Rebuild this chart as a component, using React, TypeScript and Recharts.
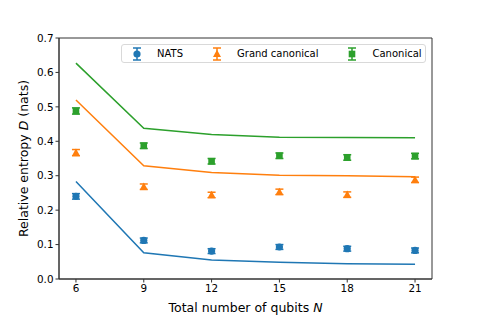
import {
  ComposedChart,
  ErrorBar,
  Legend,
  Line,
  ReferenceArea,
  Scatter,
  XAxis,
  YAxis,
} from "recharts";

const qubits = [6, 9, 12, 15, 18, 21];

// theory curves
const natsTheory = [0.283, 0.076, 0.055, 0.049, 0.044, 0.043];
const grandTheory = [0.52, 0.329, 0.309, 0.301, 0.3, 0.297];
const canonTheory = [0.627, 0.438, 0.42, 0.412, 0.411, 0.41];

// measured values with error bars
const natsExp = [0.24, 0.112, 0.081, 0.093, 0.088, 0.083];
const natsErr = [0.008, 0.007, 0.007, 0.007, 0.007, 0.007];
const grandExp = [0.367, 0.268, 0.244, 0.253, 0.245, 0.288];
const grandErr = [0.009, 0.008, 0.008, 0.008, 0.008, 0.008];
const canonExp = [0.488, 0.387, 0.342, 0.358, 0.353, 0.357];
const canonErr = [0.009, 0.008, 0.008, 0.008, 0.008, 0.008];

const yTicks = [0, 0.1, 0.2, 0.3, 0.4, 0.5, 0.6, 0.7];
const xDomain = [5.25, 21.75];
const yDomain = [0, 0.7];

const BLUE = "#1f77b4";
const ORANGE = "#ff7f0e";
const GREEN = "#2ca02c";
const FONT = "DejaVu Sans, Verdana, sans-serif";
const AXIS = "#333";

const rows = qubits.map((n, i) => ({
  n,
  natsT: natsTheory[i],
  grandT: grandTheory[i],
  canonT: canonTheory[i],
  natsE: natsExp[i],
  natsErr: natsErr[i],
  grandE: grandExp[i],
  grandErr: grandErr[i],
  canonE: canonExp[i],
  canonErr: canonErr[i],
}));

type Pt = { cx?: number; cy?: number };

function Dot({ cx = 0, cy = 0 }: Pt) {
  return <circle cx={cx} cy={cy} r={3.6} fill={BLUE} />;
}
function Tri({ cx = 0, cy = 0 }: Pt) {
  return (
    <polygon
      points={`${cx},${cy - 4.2} ${cx - 4},${cy + 3} ${cx + 4},${cy + 3}`}
      fill={ORANGE}
    />
  );
}
function Sq({ cx = 0, cy = 0 }: Pt) {
  return <rect x={cx - 3.3} y={cy - 3.3} width={6.6} height={6.6} fill={GREEN} />;
}

function LegendMark({ color, kind }: { color: string; kind: string }) {
  return (
    <svg width={20} height={16} style={{ display: "block", flex: "none" }}>
      <line x1={10} y1={2} x2={10} y2={14} stroke={color} strokeWidth={1.5} />
      <line x1={6} y1={2} x2={14} y2={2} stroke={color} strokeWidth={1.5} />
      <line x1={6} y1={14} x2={14} y2={14} stroke={color} strokeWidth={1.5} />
      {kind === "circle" && <circle cx={10} cy={8} r={3.6} fill={color} />}
      {kind === "tri" && <polygon points="10,3.8 6,11 14,11" fill={color} />}
      {kind === "sq" && <rect x={6.7} y={4.7} width={6.6} height={6.6} fill={color} />}
    </svg>
  );
}

const legendItems = [
  { name: "NATS", color: BLUE, kind: "circle" },
  { name: "Grand canonical", color: ORANGE, kind: "tri" },
  { name: "Canonical", color: GREEN, kind: "sq" },
];

function LegendBox() {
  return (
    <div
      style={{
        display: "flex",
        alignItems: "center",
        width: 305,
        height: 19,
        paddingLeft: 5,
        border: "1px solid #d9d9d9",
        borderRadius: 3,
        background: "rgba(255,255,255,0.8)",
        fontFamily: FONT,
        fontSize: 10,
        color: "#000",
        boxSizing: "border-box",
        whiteSpace: "nowrap",
      }}
    >
      {legendItems.map((it, i) => (
        <div
          key={it.name}
          style={{ display: "flex", alignItems: "center", marginLeft: i === 0 ? 0 : 24, flex: "none" }}
        >
          <LegendMark color={it.color} kind={it.kind} />
          <span style={{ marginLeft: 10 }}>{it.name}</span>
        </div>
      ))}
    </div>
  );
}

function XLabel({ viewBox }: { viewBox?: { x: number; y: number; width: number; height: number } }) {
  if (!viewBox) return null;
  return (
    <text
      x={viewBox.x + viewBox.width / 2}
      y={viewBox.y + 33}
      textAnchor="middle"
      fontFamily={FONT}
      fontSize={12.5}
      fill="#000"
    >
      Total number of qubits <tspan fontStyle="italic">N</tspan>
    </text>
  );
}

function YLabel({ viewBox }: { viewBox?: { x: number; y: number; width: number; height: number } }) {
  if (!viewBox) return null;
  const x = viewBox.x + 9;
  const y = viewBox.y + viewBox.height / 2;
  return (
    <text
      x={x}
      y={y}
      transform={`rotate(-90 ${x} ${y})`}
      textAnchor="middle"
      dominantBaseline="central"
      fontFamily={FONT}
      fontSize={12.5}
      fill="#000"
    >
      Relative entropy <tspan fontStyle="italic">D</tspan> (nats)
    </text>
  );
}

const tickStyle = { fill: "#000", fontSize: 10.4, fontFamily: FONT };

export default function App() {
  return (
    <div style={{ position: "absolute", left: 0, top: 0, background: "#fff" }}>
      <ComposedChart
        width={480}
        height={320}
        data={rows}
        margin={{ top: 38, right: 48, bottom: 0, left: 14 }}
      >
        <XAxis
          type="number"
          dataKey="n"
          domain={xDomain}
          ticks={qubits}
          tick={tickStyle}
          tickSize={3.5}
          tickMargin={2}
          height={41}
          axisLine={{ stroke: AXIS }}
          tickLine={{ stroke: AXIS }}
          label={{ content: <XLabel /> }}
        />
        <YAxis
          type="number"
          domain={yDomain}
          ticks={yTicks}
          tickFormatter={(v: number) => v.toFixed(1)}
          tick={tickStyle}
          tickSize={3.5}
          tickMargin={2}
          width={45}
          axisLine={{ stroke: AXIS }}
          tickLine={{ stroke: AXIS }}
          label={{ content: <YLabel /> }}
        />
        {/* closed axes frame, like matplotlib spines */}
        <ReferenceArea
          x1={xDomain[0]}
          x2={xDomain[1]}
          y1={yDomain[0]}
          y2={yDomain[1]}
          fill="none"
          fillOpacity={0}
          stroke={AXIS}
          strokeWidth={1}
        />
        <Legend
          layout="horizontal"
          verticalAlign="middle"
          align="center"
          wrapperStyle={{ left: 121, top: 44, width: 305 }}
          content={() => <LegendBox />}
        />
        <Line dataKey="natsT" stroke={BLUE} strokeWidth={1.5} dot={false} isAnimationActive={false} />
        <Line dataKey="grandT" stroke={ORANGE} strokeWidth={1.5} dot={false} isAnimationActive={false} />
        <Line dataKey="canonT" stroke={GREEN} strokeWidth={1.5} dot={false} isAnimationActive={false} />
        <Scatter dataKey="natsE" fill={BLUE} shape={(p: Pt) => <Dot {...p} />} isAnimationActive={false}>
          <ErrorBar dataKey="natsErr" direction="y" width={4} stroke={BLUE} strokeWidth={1.5} />
        </Scatter>
        <Scatter dataKey="grandE" fill={ORANGE} shape={(p: Pt) => <Tri {...p} />} isAnimationActive={false}>
          <ErrorBar dataKey="grandErr" direction="y" width={4} stroke={ORANGE} strokeWidth={1.5} />
        </Scatter>
        <Scatter dataKey="canonE" fill={GREEN} shape={(p: Pt) => <Sq {...p} />} isAnimationActive={false}>
          <ErrorBar dataKey="canonErr" direction="y" width={4} stroke={GREEN} strokeWidth={1.5} />
        </Scatter>
      </ComposedChart>
    </div>
  );
}
